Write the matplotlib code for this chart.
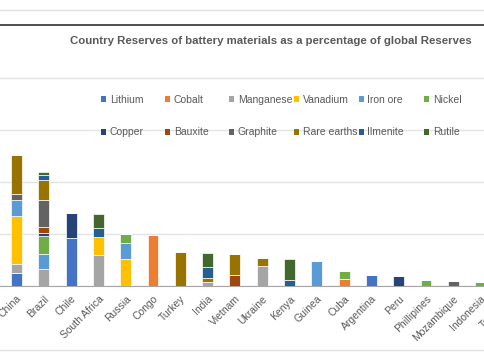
import numpy as np
import matplotlib.pyplot as plt
from matplotlib.lines import Line2D

plt.rcParams['font.family'] = ['Liberation Sans', 'DejaVu Sans']

countries = ["China", "Brazil", "Chile", "South Africa", "Russia", "Congo", "Turkey",
             "India", "Vietnam", "Ukraine", "Kenya", "Guinea", "Cuba", "Argentina",
             "Peru", "Phillipines", "Mozambique", "Indonesia", "Tanzania"]
materials = ["Lithium", "Cobalt", "Manganese", "Vanadium", "Iron ore", "Nickel",
             "Copper", "Bauxite", "Graphite", "Rare earths", "Ilmenite", "Rutile"]

# % of global reserves, one value per country
lithium     = [2.5, 0, 9.3, 0, 0, 0, 0, 0, 0, 0, 0, 0, 0, 2.2, 0, 0, 0, 0, 0]
cobalt      = [0, 0, 0, 0, 0, 9.9, 0, 0, 0, 0, 0, 0, 1.4, 0, 0, 0, 0, 0, 0]
manganese   = [1.8, 3.2, 0, 5.9, 0, 0, 0, 0.8, 0, 3.8, 0, 0, 0, 0, 0, 0, 0, 0, 0]
vanadium    = [9.2, 0, 0, 3.5, 5.1, 0, 0, 0, 0, 0, 0, 0, 0, 0, 0, 0, 0, 0, 0]
iron_ore    = [3.0, 2.9, 0, 0, 3.2, 0, 0, 0, 0, 0, 0, 4.8, 0, 0, 0, 0, 0, 0, 0]
nickel      = [0, 3.5, 0, 0, 1.7, 0, 0, 0, 0, 0, 0, 0, 1.4, 0, 0, 1.2, 0, 0.8, 0]
copper      = [0, 0.6, 4.8, 0, 0, 0, 0, 0, 0, 0, 0, 0, 0, 0, 2.0, 0, 0, 0, 0]
bauxite     = [0, 1.2, 0, 0, 0, 0, 0, 0, 2.2, 0, 0, 0, 0, 0, 0, 0, 0, 0, 0]
graphite    = [1.1, 5.2, 0, 0, 0, 0, 0, 0, 0, 0, 0, 0, 0, 0, 0, 0, 0.9, 0, 0.8]
rare_earths = [7.6, 3.7, 0, 0, 0, 0, 6.5, 0.8, 4.0, 1.5, 0, 0, 0, 0, 0, 0, 0, 0, 0]
ilmenite    = [0, 1.0, 0, 1.7, 0, 0, 0, 2.1, 0, 0, 1.2, 0, 0, 0, 0, 0, 0, 0, 0]
rutile      = [0, 0.6, 0, 2.7, 0, 0, 0, 2.7, 0, 0, 4.0, 0, 0, 0, 0, 0, 0, 0, 0]

series = [lithium, cobalt, manganese, vanadium, iron_ore, nickel,
          copper, bauxite, graphite, rare_earths, ilmenite, rutile]
colors = ["#4472C4", "#ED7D31", "#A5A5A5", "#FFC000", "#5B9BD5", "#70AD47",
          "#264478", "#9E480E", "#636363", "#997300", "#255E91", "#43682B"]

W, H = 485, 360
fig = plt.figure(figsize=(W / 100, H / 100), dpi=100)

# plot area: baseline at y=286px, top at 26px; wider than the figure (cut at right)
ax_w = 540
ax = fig.add_axes([0, (H - 286) / H, ax_w / W, (286 - 26) / H])

x = np.arange(len(countries))
bottom = np.zeros(len(countries))
handles = []
for name, vals, c in zip(materials, series, colors):
    vals = np.array(vals)
    b = ax.bar(x, vals, 0.4, bottom=bottom, color=c, edgecolor="white",
               linewidth=0.5, label=name, zorder=3)
    handles.append(b)
    bottom += vals

step = 27.3
x0 = -16.5 / step
ax.set_xlim(x0, x0 + ax_w / step)
ax.set_ylim(0, 50)
ax.set_yticks([0, 10, 20, 30, 40])
ax.grid(axis="y", color="#e3e3e3", linewidth=1, zorder=0)
ax.tick_params(left=False, labelleft=False, bottom=False, pad=2)
for s in ["top", "left", "right"]:
    ax.spines[s].set_visible(False)
ax.spines["bottom"].set_color("#a6a6a6")
ax.set_xticks(x)
ax.set_xticklabels(countries, rotation=45, ha="right", va="top",
                   rotation_mode="anchor", fontsize=7.5, color="#595959")

fig.text(271 / W, 1 - 41 / H,
         "Country Reserves of battery materials as a percentage of global Reserves",
         ha="center", va="center", fontsize=8.2, weight="bold", color="#595959")

# legend: 6 evenly spaced columns, two rows (like Excel)
col_x = [101, 165, 229, 294, 358.5, 424]
for i, xl in enumerate(col_x):
    leg = fig.legend(handles=[handles[i], handles[i + 6]],
                     labels=[materials[i], materials[i + 6]],
                     loc="center left", bbox_to_anchor=(xl / W, 1 - 116 / H),
                     borderpad=0, borderaxespad=0, frameon=False,
                     fontsize=7.5, labelcolor="#595959", handlelength=0.5,
                     handleheight=0.5, handletextpad=0.35, labelspacing=2.2)
    for h in leg.legend_handles:
        h.set_edgecolor("none")

# outer lines of the cropped page
fig.add_artist(Line2D([0, 1], [1 - 9.5 / H, 1 - 9.5 / H], color="#e0e0e0", lw=1))
fig.add_artist(Line2D([0, 1], [1 - 25 / H, 1 - 25 / H], color="#404040", lw=1.3))
fig.add_artist(Line2D([0, 1], [1 - 350 / H, 1 - 350 / H], color="#e0e0e0", lw=1))

fig.savefig("out.png", dpi=100)
